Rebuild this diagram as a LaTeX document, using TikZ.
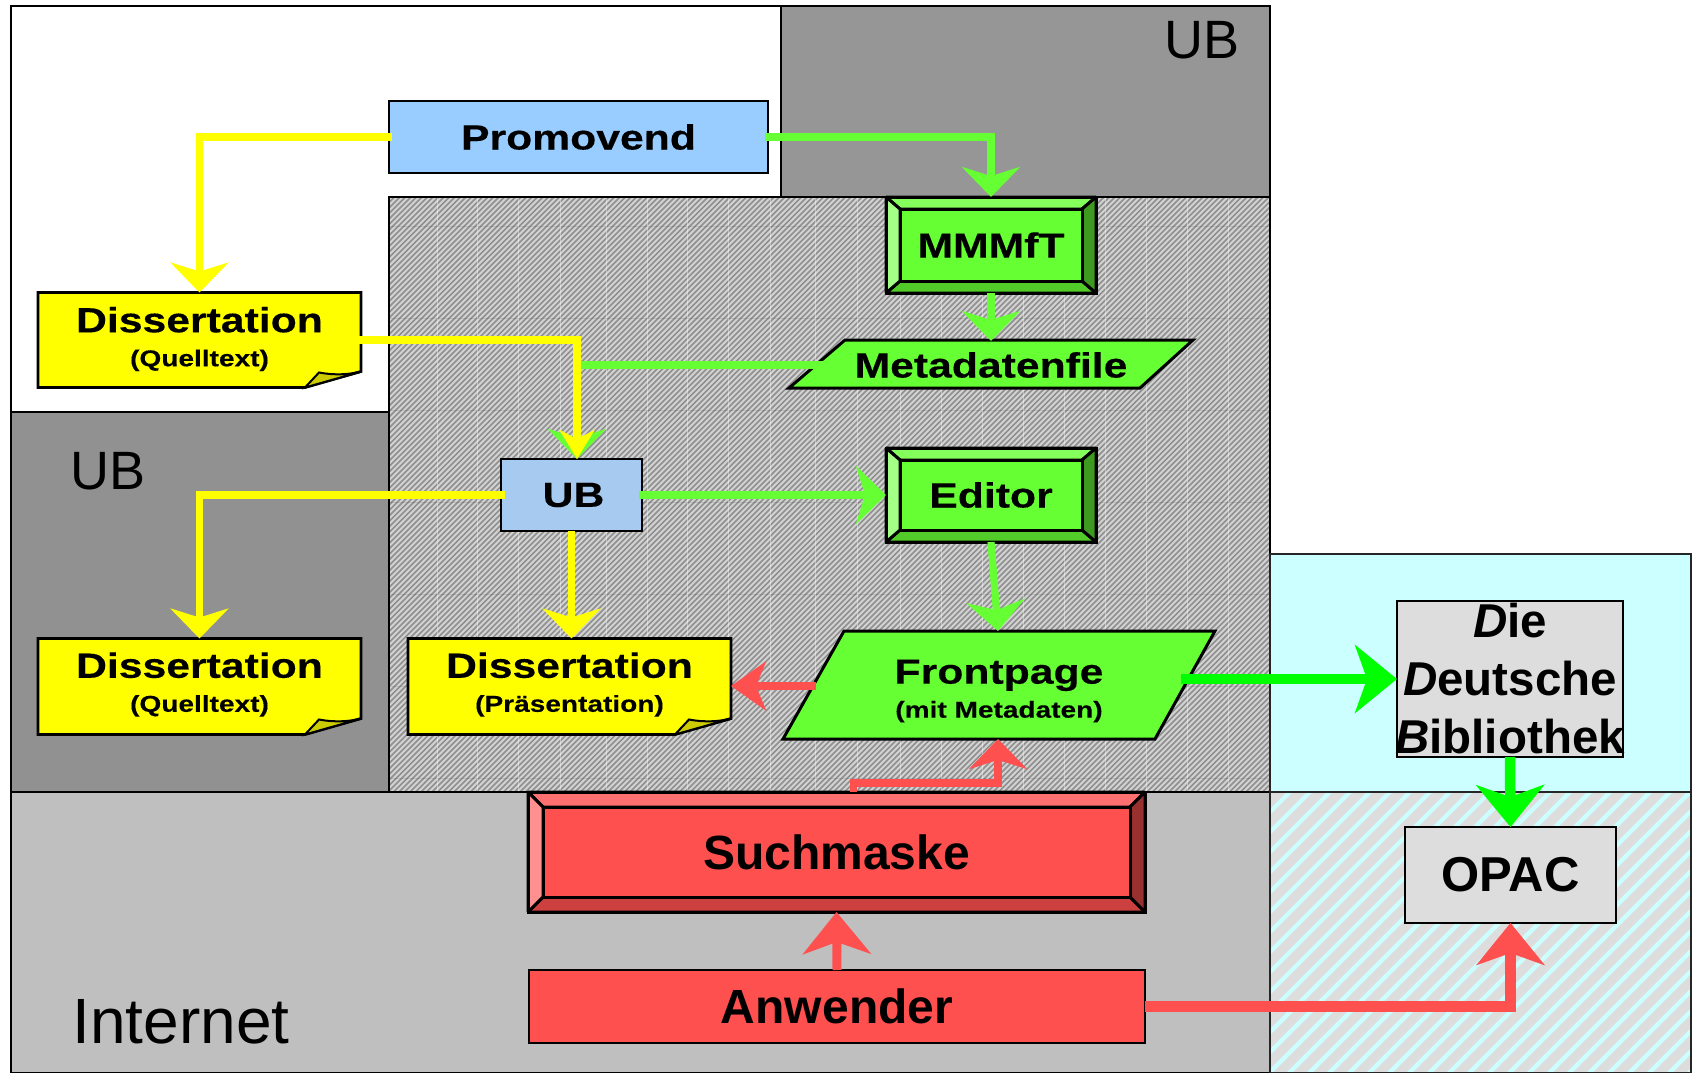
\documentclass[tikz,border=0pt]{standalone}
\usepackage{fontspec}
\setmainfont{Liberation Sans}
\newfontfamily\widefont[FakeStretch=1.22,FakeBold=0.25]{Liberation Sans}
\usetikzlibrary{arrows.meta}
\definecolor{gbase}{HTML}{66FF33}
\definecolor{gtop}{HTML}{85FF5C}
\definecolor{gleft}{HTML}{A3FF85}
\definecolor{gright}{HTML}{3D991F}
\definecolor{gbot}{HTML}{52CC29}
\definecolor{rbase}{HTML}{FF5050}
\definecolor{rtop}{HTML}{FF7070}
\definecolor{rleft}{HTML}{FF9090}
\definecolor{rright}{HTML}{993030}
\definecolor{rbot}{HTML}{CC4040}
\definecolor{regiongray}{HTML}{969696}
\definecolor{netgray}{HTML}{BFBFBF}
\definecolor{cyanbg}{HTML}{CCFFFF}
\definecolor{boxgray}{HTML}{DDDDDD}
\definecolor{blueA}{HTML}{99CCFF}
\definecolor{blueB}{HTML}{A6CAF0}
\definecolor{brightg}{HTML}{00FF00}
\definecolor{foldc}{HTML}{CCCC00}
\definecolor{noteyellow}{HTML}{FFFF00}
\definecolor{hatchlight}{HTML}{D2D2D2}
\definecolor{hatchdark}{HTML}{8F8F8F}
\tikzset{
  x=1pt,y=-1pt,
  region/.style={draw=black,line width=2.7pt},
  plainbox/.style={draw=black,line width=2.8pt,inner sep=0pt,outer sep=0pt,align=center},
  ghost/.style={inner sep=0pt,outer sep=0pt,align=center},
  widebig/.style={font=\widefont\bfseries\fontsize{35}{34}\selectfont},
  bigbold/.style={font=\bfseries\fontsize{48}{58}\selectfont},
  regionlabel/.style={anchor=base,inner sep=0pt},
  conn/.style={line width=7.2pt,line cap=butt,miter limit=10},
  thick conn/.style={line width=10.5pt,line cap=butt,miter limit=10},
  headS/.style={-{Stealth[length=30pt,width=58pt,inset=9pt]}},
  headN/.style={-{Stealth[length=29pt,width=35pt,inset=9pt]}},
  headL/.style={-{Stealth[length=42pt,width=68pt,inset=12pt]}},
  headM/.style={-{Stealth[length=35pt,width=49pt,inset=10pt]}},
}
\newcommand{\hatchregion}[7]{% x1,y1,x2,y2,base,stripe,period
  \fill[#5] (#1,#2) rectangle (#3,#4);
  \begin{scope}
    \clip (#1,#2) rectangle (#3,#4);
    \pgfmathsetmacro{\hh}{#4-#2}
    \pgfmathsetmacro{\hend}{#3+#4-#2}
    \pgfmathsetmacro{\hnext}{#1+#7}
    \foreach \hx in {#1,\hnext,...,\hend}
      \draw[#6,line width=1.5pt] (\hx,#2) -- ++(-\hh,\hh);
  \end{scope}
}
\newcommand{\bevelbox}[9]{% name,cx,cy,w,h,bx,by,prefix,text
  \begin{scope}[shift={(#2,#3)}]
    \pgfmathsetmacro{\wa}{#4/2}\pgfmathsetmacro{\ha}{#5/2}
    \pgfmathsetmacro{\wb}{#4/2-#6}\pgfmathsetmacro{\hb}{#5/2-#7}
    \path[draw=black,line width=3pt,line join=bevel,fill=#8top] (-\wa,-\ha) -- (\wa,-\ha) -- (\wb,-\hb) -- (-\wb,-\hb) -- cycle;
    \path[draw=black,line width=3pt,line join=bevel,fill=#8bot] (-\wa,\ha) -- (\wa,\ha) -- (\wb,\hb) -- (-\wb,\hb) -- cycle;
    \path[draw=black,line width=3pt,line join=bevel,fill=#8left] (-\wa,-\ha) -- (-\wb,-\hb) -- (-\wb,\hb) -- (-\wa,\ha) -- cycle;
    \path[draw=black,line width=3pt,line join=bevel,fill=#8right] (\wa,-\ha) -- (\wb,-\hb) -- (\wb,\hb) -- (\wa,\ha) -- cycle;
    \draw[black,line width=3pt] (-\wa,-\ha) rectangle (\wa,\ha);
  \end{scope}
  \node[plainbox,line width=3pt,fill=#8base,minimum width=#4pt-2*#6pt,minimum height=#5pt-2*#7pt] (#1) at (#2,#3) {#9};
}
\newcommand{\notebox}[6]{% name,cx,cy,h,text shift,text
  \begin{scope}[shift={(#2,#3)}]
    \pgfmathsetmacro{\hq}{#4/2}
    \pgfmathsetmacro{\hr}{#4/2-16}
    \pgfmathsetmacro{\hs}{#4/2-15}
    \path[draw=black,line width=2.8pt,fill=noteyellow,line join=miter] (-161.5,-\hq) -- (161.5,-\hq) -- (161.5,\hr) -- (105.5,\hq) -- (-161.5,\hq) -- cycle;
    \path[draw=black,line width=2pt,fill=foldc,line join=miter] (105.5,\hq) -- (119.5,\hs) .. controls (135,\hs+3) and (150,\hs+2) .. (162,\hr) -- cycle;
  \end{scope}
  \node[ghost,minimum width=323pt,minimum height=#4pt] (#1) at (#2,#3) {};
  \node[ghost,widebig] (#1text) at ([yshift=#5pt]#1.center) {#6};
}
\newcommand{\subline}[1]{{\fontsize{23}{34}\selectfont #1}}
\begin{document}
\begin{tikzpicture}
\useasboundingbox (0,0) rectangle (1694,1073);
\fill[white] (0,0) rectangle (1694,1073);
% regions
\draw[region,fill=white] (11,6) rectangle (781,412);
\draw[region,fill=regiongray] (781,6) rectangle (1270,197);
\draw[region,fill=regiongray!97!black] (11,412) rectangle (389,792);
\hatchregion{389}{197}{1270}{792}{hatchlight}{hatchdark}{5.5}
\begin{scope}
  \clip (389,197) rectangle (1270,792);
  \foreach \vx in {437,477,518,560,606,647,687,728,770,815,857,900,941,982,1023,1064,1105,1146,1187,1228}
    \draw[white,opacity=.4,line width=1pt] (\vx,197) -- (\vx,792);
  \foreach \hy in {226,318,410,502,594,686,778}
    \draw[black,opacity=.1,line width=1pt] (389,\hy) -- (1270,\hy);
\end{scope}
\draw[region] (389,197) rectangle (1270,792);
\draw[region,fill=netgray] (11,792) rectangle (1270,1073);
\draw[region,fill=cyanbg,draw=black!85] (1270,554) rectangle (1691,792);
\fill[boxgray] (1270,792) rectangle (1691,1073);
\begin{scope}
  \clip (1270,792) rectangle (1691,1073);
  \foreach \cx in {1270,1290,...,1980}
    \draw[cyanbg,line width=4.2pt] (\cx,792) -- ++(-281,281);
\end{scope}
\draw[region,draw=black!85] (1270,792) rectangle (1691,1073);
% region labels
\node[regionlabel,font=\fontsize{54}{60}\selectfont] (ubtop) at (1202,59) {UB};
\node[regionlabel,font=\fontsize{54}{60}\selectfont] (ubleft) at (108,489) {UB};
\node[regionlabel,font=\fontsize{64}{70}\selectfont] (inet) at (181,1043) {Internet};
% parallelograms
\path[draw=black,line width=3pt,fill=gbase,line join=miter] (845,340) -- (1193,340) -- (1140,388) -- (789,388) -- cycle;
\path[draw=black,line width=3pt,fill=gbase,line join=miter] (844,631) -- (1215,631) -- (1155,739) -- (783,739) -- cycle;
% boxes
\node[plainbox,fill=blueA,widebig,minimum width=379pt,minimum height=72pt] (promo) at (578.5,137) {\raisebox{-3pt}{Promovend}};
\notebox{dissA}{199.5}{340}{95}{1}{Dissertation\\\subline{(Quelltext)}}
\bevelbox{mmm}{991}{245}{210}{96}{14}{12}{g}{\widefont\bfseries\fontsize{35}{34}\selectfont MMMfT}
\node[ghost,widebig,minimum width=336pt,minimum height=48pt] (meta) at (991,365) {Metadatenfile};
\node[plainbox,fill=blueB,widebig,minimum width=141pt,minimum height=72pt] (ub) at (571.5,495) {\raisebox{-4pt}{\hspace*{4pt}UB}};
\bevelbox{edit}{991}{495}{210}{94}{14}{12}{g}{\raisebox{-3pt}{\widefont\bfseries\fontsize{35}{34}\selectfont Editor}}
\notebox{dissB}{199.5}{686.5}{96}{2}{Dissertation\\\subline{(Quelltext)}}
\notebox{dissC}{569.5}{686.5}{96}{2}{Dissertation\\\subline{(Präsentation)}}
\node[ghost,widebig,minimum width=364pt,minimum height=108pt] (front) at (999,691) {Frontpage\\\subline{(mit Metadaten)}};
\node[plainbox,fill=boxgray,font=\bfseries\fontsize{47.5}{58}\selectfont,minimum width=226pt,minimum height=156pt] (ddb) at (1510,679) {{\itshape D}ie\\{\itshape D}eutsche\\\makebox[0pt][c]{{\itshape B}ibliothek}};
\node[plainbox,fill=boxgray,font=\bfseries\fontsize{49}{50}\selectfont,minimum width=211pt,minimum height=96pt] (opac) at (1510.5,875) {OPAC};
\bevelbox{such}{836.5}{852}{617}{120}{15}{15}{r}{\bfseries\fontsize{48}{50}\selectfont Suchmaske}
\node[plainbox,fill=rbase,bigbold,minimum width=616pt,minimum height=73pt] (anw) at (837,1006.5) {Anwender};
% helper ends
\coordinate (ubin) at ([xshift=5.5pt]ub.north);
\coordinate (suchout) at ([xshift=17pt]such.north |- 0,792);
\coordinate (frontin) at (998,739);
\coordinate (frontout) at (816,686);
\coordinate (frontoutr) at (1181,679);
\coordinate (frontt) at (998,631);
% connectors
\draw[conn,noteyellow,headS] ([xshift=3pt]promo.west) -| (dissA.north);
\draw[conn,gbase,headS] ([xshift=-3pt]promo.east) -| (mmm.north |- 0,197);
\draw[conn,gbase,headS] (mmm.north |- 0,293) -- (mmm.north |- meta.north);
\draw[conn,gbase,headS] (meta.west) -| (ubin);
\draw[conn,noteyellow,headN] ([xshift=-3pt,yshift=0pt]dissA.east) -| (ubin);
\draw[conn,noteyellow,headS] ([xshift=4pt]ub.west) -| (dissB.north);
\draw[conn,noteyellow,headS] (ub.south) -- (ub.south |- dissC.north);
\draw[conn,gbase,headS] ([xshift=-3pt]ub.east) -- (886,495);
\draw[conn,gbase,headS] (edit.south |- 0,542) -- (frontt);
\draw[conn,rbase,headM] (frontout) -- (dissC.east |- frontout);
\draw[thick conn,brightg,headL] (frontoutr) -- (ddb.west);
\draw[thick conn,brightg,headL] (ddb.south) -- (opac.north);
\draw[conn,rbase,headS] (suchout) -- ++(0,-9) -| (frontin);
\draw[line width=9pt,rbase,headL] (anw.north) -- (such.south |- 0,912);
\draw[thick conn,rbase,headL] (anw.east) -| (opac.south);
\end{tikzpicture}
\end{document}
